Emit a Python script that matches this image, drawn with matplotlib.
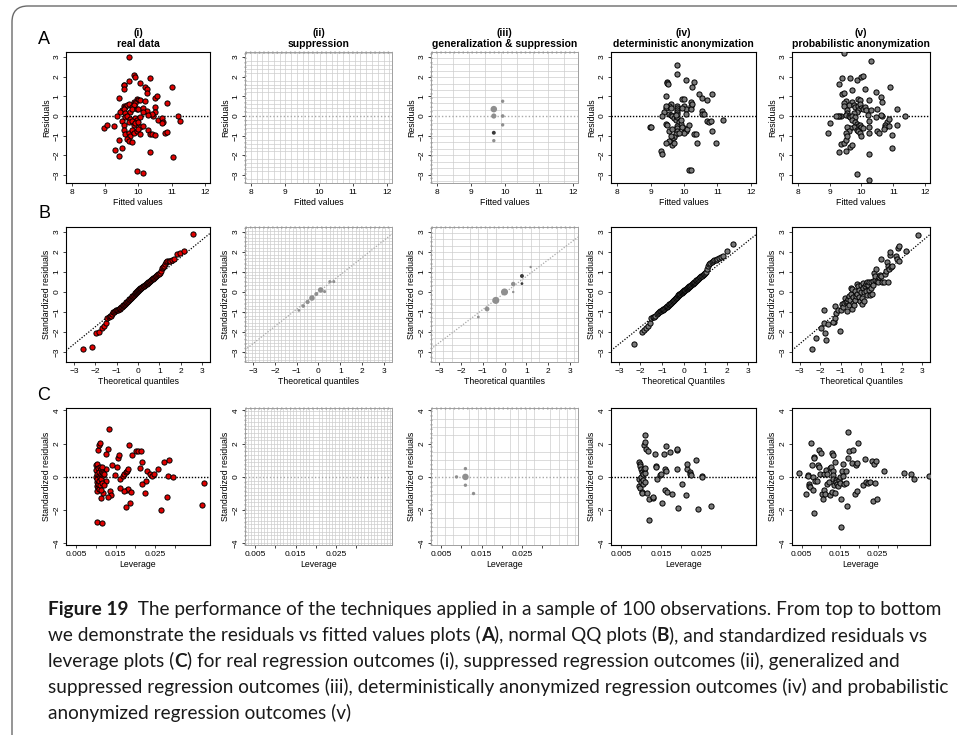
import matplotlib
matplotlib.use("Agg")
import matplotlib.pyplot as plt
from matplotlib.ticker import MultipleLocator
from matplotlib.path import Path
from matplotlib.patches import PathPatch

# ---------------- data ----------------
col_titles = ["(i)\nreal data", "(ii)\nsuppression", "(iii)\ngeneralization & suppression",
              "(iv)\ndeterministic anonymization", "(v)\nprobabilistic anonymization"]
row_letters = ["A", "B", "C"]

# row A: residuals vs fitted values (fitted, residual)
real_resid = [(9.70, 3.00), (9.85, 2.10), (9.88, 2.00), (9.55, 1.60), (9.57, 1.55), (9.70, 1.80),
              (10.05, 1.70), (10.35, 1.95), (9.55, 1.35), (10.20, 1.45), (10.25, 1.35), (10.25, 1.15),
              (11.00, 1.45), (10.50, 0.90), (10.55, 1.00), (10.85, 0.65), (9.40, 0.90), (9.95, 0.85),
              (10.00, 0.80), (10.05, 0.80), (9.85, 0.70), (9.90, 0.65), (10.20, 0.75), (9.55, 0.50),
              (9.60, 0.45), (9.65, 0.55), (9.70, 0.60), (9.80, 0.45), (9.85, 0.55), (9.50, 0.30),
              (9.55, 0.35), (9.45, 0.20), (9.60, 0.15), (9.75, 0.20), (9.80, 0.35), (9.95, 0.35),
              (10.00, 0.35), (10.15, 0.40), (10.25, 0.25), (10.50, 0.45), (10.15, 0.20), (10.50, 0.20),
              (10.45, 0.00), (10.40, 0.10), (9.35, 0.00), (9.60, -0.05), (9.65, 0.00), (9.75, -0.15),
              (9.90, -0.10), (9.95, -0.20), (10.05, -0.05), (10.30, 0.05), (9.50, -0.25), (9.55, -0.45),
              (9.70, -0.30), (9.80, -0.25), (9.85, -0.45), (9.90, -0.35), (10.00, -0.30), (10.05, -0.55),
              (10.15, -0.50), (10.60, -0.20), (10.70, -0.10), (10.75, -0.30), (10.70, -0.35), (11.20, 0.00),
              (11.25, -0.25), (8.95, -0.60), (9.05, -0.45), (9.25, -0.50), (9.55, -0.70), (9.60, -0.90),
              (9.70, -0.85), (9.75, -1.00), (9.80, -0.70), (9.85, -0.85), (9.95, -0.75), (10.00, -0.65),
              (10.05, -0.90), (10.30, -0.70), (10.35, -0.90), (10.40, -0.90), (10.50, -0.95), (10.80, -0.85),
              (10.85, -0.80), (9.40, -1.20), (9.65, -1.15), (9.70, -1.25), (9.80, -1.30), (9.50, -1.60),
              (9.30, -1.75), (9.40, -2.05), (10.35, -1.85), (11.05, -2.10), (9.95, -2.80), (10.15, -2.90)]

det_resid = [(9.80, 2.60), (9.80, 2.15), (10.05, 1.85), (9.50, 1.75), (9.50, 1.70), (9.52, 1.65),
             (10.30, 1.75), (10.25, 1.45), (10.45, 1.10), (10.85, 1.10), (10.55, 0.90), (10.70, 0.80),
             (9.45, 1.00), (9.95, 0.85), (10.00, 0.85), (10.20, 0.70), (9.60, 0.60), (9.55, 0.50),
             (9.50, 0.45), (9.45, 0.40), (9.40, 0.20), (9.80, 0.50), (9.80, 0.40), (9.80, 0.30),
             (9.80, 0.20), (10.00, 0.50), (10.05, 0.35), (10.20, 0.50), (10.20, 0.35), (10.55, 0.25),
             (10.55, 0.10), (10.60, 0.10), (9.55, 0.10), (9.60, 0.05), (9.65, 0.00), (9.70, -0.10),
             (9.75, -0.20), (9.80, -0.05), (9.80, 0.10), (9.85, -0.30), (9.90, -0.40), (9.80, -0.50),
             (9.80, -0.60), (9.80, -0.75), (9.75, -0.90), (9.70, -1.05), (9.65, -1.15), (9.60, -1.30),
             (9.65, -1.45), (9.70, -1.35), (9.55, -1.25), (9.45, -1.35), (9.60, -1.00), (9.55, -0.75),
             (9.45, -0.40), (9.50, -0.45), (9.35, 0.00), (8.98, -0.55), (9.00, -0.55), (10.00, -0.60),
             (10.05, -0.75), (10.00, -0.85), (10.10, -0.65), (10.15, -0.45), (10.30, -0.90), (10.35, -0.90),
             (10.40, -1.35), (10.70, -0.25), (10.75, -0.30), (10.80, -0.25), (10.85, -0.75), (10.95, -1.35),
             (11.15, -0.20), (9.30, -1.80), (9.35, -1.95), (10.15, -2.75), (10.20, -2.75), (9.45, 0.50),
             (9.60, 0.40), (9.75, 0.05), (9.90, -0.20), (9.95, 0.40), (10.25, 0.60), (9.85, -0.85),
             (9.65, -0.65), (9.95, -0.55), (10.05, 0.10)]

prob_resid = [(9.45, 3.20), (10.30, 2.80), (9.30, 1.65), (9.40, 1.95), (9.65, 1.95), (9.85, 1.85),
              (10.00, 2.00), (10.05, 2.05), (9.40, 1.10), (9.45, 1.15), (9.70, 1.30), (10.10, 1.35),
              (10.45, 1.20), (10.60, 0.95), (10.90, 1.45), (9.90, 0.85), (9.95, 0.80), (9.50, 0.75),
              (9.70, 0.70), (10.25, 0.80), (10.65, 0.70), (9.45, 0.65), (9.60, 0.55), (9.35, 0.00),
              (9.45, 0.50), (9.55, 0.30), (9.75, 0.55), (9.80, 0.45), (9.90, 0.50), (9.95, 0.60),
              (10.00, 0.40), (10.05, 0.35), (10.10, 0.45), (10.15, 0.30), (9.90, 0.30), (9.85, 0.20),
              (9.75, 0.15), (9.55, 0.15), (9.50, 0.05), (9.30, 0.00), (9.25, 0.00), (9.60, 0.00),
              (9.65, -0.05), (9.70, 0.00), (9.80, -0.05), (10.30, 0.30), (10.50, 0.35), (10.65, 0.00),
              (10.60, 0.05), (11.10, 0.35), (11.35, 0.00), (10.20, 0.05), (10.45, -0.05), (8.95, -0.85),
              (9.00, -0.35), (9.20, 0.00), (9.70, -0.20), (9.80, -0.30), (9.85, -0.40), (9.90, -0.50),
              (9.95, -0.45), (10.00, -0.55), (10.05, -0.60), (9.75, -0.55), (9.65, -0.60), (9.55, -0.55),
              (9.60, -0.75), (9.85, -0.70), (9.90, -0.75), (9.95, -0.85), (10.00, -1.00), (10.25, -0.25),
              (10.25, -0.55), (10.25, -0.85), (10.50, -0.75), (10.55, -0.85), (10.80, -0.30), (10.75, -0.45),
              (10.75, -0.55), (10.70, -0.65), (10.85, -0.50), (11.10, -0.45), (10.95, -0.95), (10.85, -0.15),
              (9.35, -1.40), (9.45, -1.35), (9.50, -1.20), (9.50, -0.85), (9.55, -1.00), (9.65, -1.55),
              (9.70, -1.45), (9.30, -1.85), (9.50, -1.80), (10.25, -1.95), (10.95, -1.60), (9.85, -2.95),
              (10.25, -3.25)]

# generalization & suppression, row A: (fitted, residual, size, dark?)
gen_resid = [(9.67, 0.35, 22, 0), (9.67, 0.00, 14, 0), (9.67, -0.85, 8, 1), (9.67, -1.25, 6, 0),
             (9.93, 0.75, 6, 0), (9.93, 0.00, 7, 0), (9.93, -0.45, 6, 0)]

# row B: normal QQ (theoretical quantile, standardized residual)
real_qq_x = [-2.58, -2.17, -1.96, -1.81, -1.70, -1.60, -1.51, -1.44, -1.37, -1.31,
             -1.25, -1.20, -1.15, -1.10, -1.06, -1.02, -0.97, -0.93, -0.90, -0.86,
             -0.82, -0.79, -0.76, -0.72, -0.69, -0.66, -0.63, -0.60, -0.57, -0.54,
             -0.51, -0.48, -0.45, -0.43, -0.40, -0.37, -0.35, -0.32, -0.29, -0.27,
             -0.24, -0.21, -0.19, -0.16, -0.14, -0.11, -0.09, -0.06, -0.04, -0.01,
             0.01, 0.04, 0.06, 0.09, 0.11, 0.14, 0.16, 0.19, 0.21, 0.24,
             0.27, 0.29, 0.32, 0.35, 0.37, 0.40, 0.43, 0.45, 0.48, 0.51,
             0.54, 0.57, 0.60, 0.63, 0.66, 0.69, 0.72, 0.76, 0.79, 0.82,
             0.86, 0.90, 0.93, 0.97, 1.02, 1.06, 1.10, 1.15, 1.20, 1.25,
             1.31, 1.37, 1.44, 1.51, 1.60, 1.70, 1.81, 1.96, 2.17, 2.58]
real_qq_y = [-2.85, -2.75, -2.05, -2.00, -1.80, -1.72, -1.55, -1.30, -1.25, -1.22,
             -1.18, -1.10, -1.00, -0.98, -0.95, -0.92, -0.90, -0.88, -0.86, -0.84,
             -0.80, -0.77, -0.74, -0.70, -0.67, -0.64, -0.61, -0.58, -0.55, -0.52,
             -0.49, -0.46, -0.43, -0.40, -0.37, -0.34, -0.31, -0.28, -0.25, -0.22,
             -0.19, -0.16, -0.13, -0.10, -0.07, -0.04, -0.02, 0.01, 0.04, 0.07,
             0.10, 0.12, 0.14, 0.16, 0.18, 0.20, 0.22, 0.24, 0.26, 0.28,
             0.30, 0.32, 0.34, 0.36, 0.38, 0.41, 0.43, 0.46, 0.48, 0.50,
             0.53, 0.55, 0.58, 0.60, 0.63, 0.66, 0.69, 0.72, 0.75, 0.78,
             0.81, 0.85, 0.88, 0.92, 0.97, 1.05, 1.20, 1.25, 1.30, 1.40,
             1.50, 1.55, 1.55, 1.56, 1.60, 1.65, 1.90, 1.95, 2.05, 2.90]

det_qq_x = [-2.30, -1.95, -1.85, -1.75, -1.66, -1.58, -1.50, -1.43, -1.37, -1.31,
            -1.25, -1.20, -1.15, -1.10, -1.06, -1.02, -0.97, -0.93, -0.90, -0.86,
            -0.82, -0.79, -0.76, -0.72, -0.69, -0.66, -0.63, -0.60, -0.57, -0.54,
            -0.51, -0.48, -0.45, -0.43, -0.40, -0.37, -0.35, -0.32, -0.29, -0.27,
            -0.24, -0.21, -0.19, -0.16, -0.14, -0.11, -0.09, -0.06, -0.04, -0.01,
            0.01, 0.04, 0.06, 0.09, 0.11, 0.14, 0.16, 0.19, 0.21, 0.24,
            0.27, 0.29, 0.32, 0.35, 0.37, 0.40, 0.43, 0.45, 0.48, 0.51,
            0.54, 0.57, 0.60, 0.63, 0.66, 0.69, 0.72, 0.76, 0.79, 0.82,
            0.86, 0.90, 0.93, 0.97, 1.02, 1.06, 1.10, 1.15, 1.20, 1.25,
            1.31, 1.37, 1.43, 1.50, 1.58, 1.66, 1.75, 1.85, 2.00, 2.30]
det_qq_y = [-2.60, -2.00, -1.90, -1.80, -1.72, -1.55, -1.30, -1.27, -1.24, -1.20,
            -1.12, -1.05, -0.98, -0.95, -0.93, -0.91, -0.89, -0.86, -0.83, -0.80,
            -0.77, -0.74, -0.71, -0.68, -0.65, -0.62, -0.59, -0.56, -0.53, -0.50,
            -0.47, -0.44, -0.41, -0.38, -0.35, -0.32, -0.29, -0.26, -0.23, -0.20,
            -0.17, -0.15, -0.12, -0.10, -0.08, -0.05, -0.03, 0.00, 0.02, 0.04,
            0.06, 0.08, 0.10, 0.12, 0.15, 0.17, 0.19, 0.21, 0.23, 0.25,
            0.28, 0.30, 0.32, 0.35, 0.37, 0.40, 0.42, 0.45, 0.47, 0.50,
            0.52, 0.55, 0.58, 0.61, 0.64, 0.67, 0.70, 0.73, 0.76, 0.79,
            0.82, 0.85, 0.88, 0.92, 0.95, 1.00, 1.15, 1.30, 1.40, 1.45,
            1.50, 1.55, 1.58, 1.62, 1.65, 1.70, 1.75, 1.80, 2.05, 2.40]

prob_qq = [(-2.40, -2.85), (-2.20, -2.30), (-1.95, -1.80), (-1.80, -1.55), (-1.75, -2.05), (-1.70, -2.40),
           (-1.60, -1.60), (-1.80, -0.90), (-1.30, -1.50), (-1.35, -1.50), (-1.25, -1.30), (-1.20, -1.05),
           (-1.25, -0.70), (-1.10, -0.90), (-1.05, -1.95), (-1.00, -0.90), (-0.95, -0.60), (-0.90, -0.75),
           (-0.85, -0.55), (-0.80, -0.30), (-0.75, -0.50), (-0.70, -0.95), (-0.70, -0.45), (-0.65, -0.35),
           (-0.60, -0.65), (-0.60, -0.20), (-0.55, -0.40), (-0.50, -0.10), (-0.50, 0.20), (-0.45, 0.15),
           (-0.45, -0.85), (-0.40, -0.55), (-0.40, -0.25), (-0.35, -0.65), (-0.30, -0.40), (-0.30, 0.05),
           (-0.25, -0.20), (-0.20, 0.40), (-0.20, -0.10), (-0.15, 0.30), (-0.10, -0.25), (-0.10, 0.10),
           (-0.05, -0.45), (0.00, 0.35), (0.00, 0.00), (0.05, -0.30), (0.05, -0.60), (0.10, 0.45),
           (0.10, 0.20), (0.15, 0.00), (0.15, -0.45), (0.20, 0.30), (0.25, 0.40), (0.25, 0.05),
           (0.30, -0.15), (0.30, 0.50), (0.35, 0.35), (0.40, 0.10), (0.40, 0.50), (0.45, -0.15),
           (0.50, 0.50), (0.50, 0.20), (0.55, -0.10), (0.60, 0.55), (0.60, 0.35), (0.65, 0.95),
           (0.70, 0.60), (0.70, 0.80), (0.75, 1.15), (0.80, 0.55), (0.85, 0.50), (0.90, 0.75),
           (0.95, 0.85), (1.00, 0.80), (1.00, 1.65), (1.05, 0.50), (1.10, 0.50), (1.15, 0.90),
           (1.20, 1.05), (1.25, 1.50), (1.30, 0.50), (1.30, 1.30), (1.35, 1.15), (1.40, 1.85),
           (1.40, 2.00), (1.45, 1.25), (1.50, 1.30), (1.70, 1.80), (1.75, 1.65), (1.80, 2.20),
           (1.85, 2.30), (1.85, 1.55), (2.20, 2.05), (2.80, 2.85)]

supp_qq = [(-0.90, -0.92, 4, 0), (-0.70, -0.70, 7, 0), (-0.50, -0.50, 9, 0), (-0.30, -0.30, 16, 0),
           (-0.10, -0.10, 8, 0), (0.10, 0.10, 16, 0), (0.28, 0.02, 5, 0), (0.52, 0.52, 5, 0),
           (0.70, 0.52, 5, 0)]
gen_qq = [(-1.20, -1.25, 4, 0), (-0.80, -0.85, 12, 0), (-0.40, -0.42, 26, 0), (0.00, 0.00, 26, 0),
          (0.40, 0.40, 10, 0), (0.40, 0.00, 3, 0), (0.80, 0.80, 8, 1), (0.80, 0.42, 4, 1),
          (1.20, 1.25, 3, 0)]

# qq reference lines (slope, intercept)
qq_lines = [(0.87, 0.0), (0.86, 0.0), (0.83, -0.05), (0.86, -0.03), (0.86, -0.02)]

# row C: standardized residuals vs leverage (leverage, std residual)
real_lev = [(0.0102, -2.70), (0.0117, -2.80), (0.0134, 2.90), (0.0105, 1.60), (0.0108, 1.95), (0.0110, 2.05),
            (0.0130, 1.70), (0.0127, 1.40), (0.0156, 1.15), (0.0158, 1.30), (0.0184, 1.90), (0.0202, 1.55),
            (0.0207, 1.55), (0.0214, 1.55), (0.0192, 1.30), (0.0211, 0.55), (0.0217, 0.90), (0.0230, 0.35),
            (0.0238, 0.20), (0.0242, 0.05), (0.0248, 0.15), (0.0256, 0.50), (0.0272, 0.90), (0.0284, 1.00),
            (0.0281, 0.05), (0.0295, 0.00), (0.0280, -1.20), (0.0264, -2.00), (0.0367, -1.70), (0.0372, -0.35),
            (0.0226, -0.25), (0.0217, -0.45), (0.0224, -0.95), (0.0186, -1.55), (0.0176, -1.80), (0.0180, -0.80),
            (0.0182, -0.70), (0.0172, -0.85), (0.0188, -0.90), (0.0162, -0.65), (0.0135, -0.85), (0.0138, -1.10),
            (0.0130, -1.20), (0.0141, 0.70), (0.0154, 0.60), (0.0148, 0.10), (0.0161, -0.10), (0.0168, 0.05),
            (0.0170, 0.15), (0.0175, 0.30), (0.0178, 0.35), (0.0181, 0.45), (0.0126, 0.50), (0.0127, -0.25),
            (0.0113, -1.25), (0.0118, -0.95), (0.0103, -0.85), (0.0100, 0.70), (0.0101, 0.40), (0.0101, 0.00),
            (0.0102, -0.30), (0.0102, -0.55), (0.0103, 0.80), (0.0104, 0.20), (0.0104, -0.15), (0.0105, -0.60),
            (0.0106, 0.55), (0.0106, -0.40), (0.0107, 0.10), (0.0108, -0.70), (0.0109, 0.30), (0.0109, -0.25),
            (0.0110, 0.60), (0.0110, -0.50), (0.0111, 0.00), (0.0112, 0.45), (0.0112, -0.80), (0.0113, 0.20),
            (0.0114, -0.10), (0.0115, 0.60), (0.0116, 0.30), (0.0117, -0.35), (0.0118, 0.10), (0.0119, 0.25),
            (0.0120, -0.50), (0.0121, 0.15)]

det_lev = [(0.0096, 0.90), (0.0097, 0.80), (0.0098, 0.65), (0.0095, -0.10), (0.0096, -0.55), (0.0097, -0.65),
           (0.0099, -0.30), (0.0100, 0.00), (0.0101, 0.50), (0.0102, -0.90), (0.0103, -0.95), (0.0103, 0.30),
           (0.0104, -0.45), (0.0105, 0.15), (0.0106, -0.20), (0.0107, 0.45), (0.0107, 1.90), (0.0109, 0.25),
           (0.0110, 2.10), (0.0110, 2.50), (0.0111, 0.55), (0.0109, -0.30), (0.0112, 1.70), (0.0114, -0.95),
           (0.0118, 1.55), (0.0120, -1.30), (0.0121, -2.60), (0.0129, -1.25), (0.0131, -1.20), (0.0136, 1.40),
           (0.0137, 0.65), (0.0138, 0.60), (0.0139, -0.10), (0.0148, 0.10), (0.0150, 0.15), (0.0153, -1.60),
           (0.0158, 1.35), (0.0159, 0.50), (0.0162, 1.85), (0.0163, 0.35), (0.0160, -0.80), (0.0166, -0.90),
           (0.0172, 1.50), (0.0178, -1.00), (0.0189, 0.50), (0.0190, 1.65), (0.0191, 1.70), (0.0192, -1.90),
           (0.0203, -0.40), (0.0212, -1.10), (0.0215, 0.50), (0.0216, 0.80), (0.0222, 0.30), (0.0224, 0.20),
           (0.0226, 0.10), (0.0238, 1.00), (0.0243, -1.95), (0.0252, 0.05), (0.0253, 0.00), (0.0275, -1.75)]

prob_lev = [(0.0044, 0.25), (0.0063, -1.00), (0.0066, 0.10), (0.0068, 0.05), (0.0069, -0.40), (0.0070, -0.55),
            (0.0072, -0.60), (0.0074, 2.05), (0.0078, 0.70), (0.0079, 0.00), (0.0080, -0.80), (0.0082, 1.20),
            (0.0083, -2.20), (0.0084, 1.15), (0.0085, -0.25), (0.0090, -0.25), (0.0093, 0.70), (0.0095, 0.60),
            (0.0097, 1.60), (0.0098, 0.20), (0.0100, 1.45), (0.0103, -1.00), (0.0106, -1.35), (0.0108, 0.15),
            (0.0110, -0.80), (0.0113, -1.00), (0.0115, 0.40), (0.0116, -0.45), (0.0118, 0.20), (0.0122, -0.30),
            (0.0125, 0.55), (0.0125, -1.10), (0.0128, 0.60), (0.0129, -0.90), (0.0131, 1.45), (0.0132, 1.30),
            (0.0132, 0.35), (0.0133, 0.10), (0.0134, -0.15), (0.0135, -0.50), (0.0137, 0.90), (0.0138, -0.95),
            (0.0140, -0.20), (0.0142, -0.30), (0.0144, -0.40), (0.0146, -0.55), (0.0148, -0.20), (0.0150, 0.00),
            (0.0152, -0.35), (0.0153, -1.35), (0.0155, -3.00), (0.0156, 0.35), (0.0158, 0.75), (0.0160, 0.05),
            (0.0163, -0.45), (0.0166, 0.35), (0.0168, -0.35), (0.0170, -1.75), (0.0171, 1.15), (0.0173, 2.70),
            (0.0176, 1.55), (0.0182, 0.85), (0.0186, 1.65), (0.0190, -1.00), (0.0193, 0.70), (0.0195, 0.85),
            (0.0197, -0.85), (0.0198, 2.05), (0.0212, -0.50), (0.0216, 1.05), (0.0220, -0.30), (0.0225, -0.35),
            (0.0231, -0.30), (0.0236, 0.95), (0.0238, -1.45), (0.0241, 0.80), (0.0243, -0.35), (0.0246, 0.95),
            (0.0248, -1.30), (0.0268, 0.35), (0.0320, 0.25), (0.0338, 0.15), (0.0345, -0.15), (0.0385, 0.05)]

gen_lev = [(0.0088, 0.00, 6, 0), (0.0110, 0.00, 22, 0), (0.0110, 0.50, 6, 0), (0.0110, -0.50, 6, 0),
           (0.0130, -1.00, 6, 0)]

caption_lines = [
    [("Figure 19", True), ("  The performance of the techniques applied in a sample of 100 observations. From top to bottom", False)],
    [("we demonstrate the residuals vs fitted values plots (", False), ("A", True), ("), normal QQ plots (", False),
     ("B", True), ("), and standardized residuals vs", False)],
    [("leverage plots (", False), ("C", True),
     (") for real regression outcomes (i), suppressed regression outcomes (ii), generalized and", False)],
    [("suppressed regression outcomes (iii), deterministically anonymized regression outcomes (iv) and probabilistic", False)],
    [("anonymized regression outcomes (v)", False)],
]

# ---------------- layout ----------------
W, H = 957, 738
fig = plt.figure(figsize=(W / 100, H / 100), dpi=100, facecolor="white")
plt.rcParams["font.family"] = ["Liberation Sans", "DejaVu Sans"]

col_px = [(66, 210), (245, 392), (431, 578), (611, 756), (792, 930)]
row_px = [(52, 183), (227, 362), (408, 545)]

row_cfg = [
    dict(xlim=(7.82, 12.15), ylim=(-3.4, 3.25), xt=[8, 9, 10, 11, 12], xtl=["8", "9", "10", "11", "12"],
         yt=[-3, -2, -1, 0, 1, 2, 3], xl="Fitted values", yl="Residuals"),
    dict(xlim=(-3.37, 3.37), ylim=(-3.5, 3.25), xt=[-3, -2, -1, 0, 1, 2, 3], xtl=None,
         yt=[-3, -2, -1, 0, 1, 2, 3], xl="Theoretical quantiles", yl="Standardized residuals"),
    dict(xlim=(0.0025, 0.0388), ylim=(-4.1, 4.15), xt=[0.005, 0.010, 0.015, 0.020, 0.025, 0.030],
         xtl=["0.005", "", "0.015", "", "0.025", ""], yt=[-4, -2, 0, 2, 4],
         xl="Leverage", yl="Standardized residuals"),
]
grid_steps = {(0, 1): (0.17, 0.2), (0, 2): (0.47, 0.33), (1, 1): (0.17, 0.17), (1, 2): (0.4, 0.33),
              (2, 1): (0.0008, 0.22), (2, 2): (0.002, 0.5)}

RED = "#e00000"
GRAYFILL = "#7a7a7a"


def make_ax(r, c):
    l, rt = col_px[c]
    t, b = row_px[r]
    return fig.add_axes([l / W, 1 - b / H, (rt - l) / W, (b - t) / H])


def style(ax, r, c):
    cfg = row_cfg[r]
    ax.set_xlim(*cfg["xlim"])
    ax.set_ylim(*cfg["ylim"])
    ax.set_xticks(cfg["xt"])
    if cfg["xtl"] is not None:
        ax.set_xticklabels(cfg["xtl"])
    ax.set_yticks(cfg["yt"])
    ax.set_yticklabels([str(v).replace("-", "\u2212") for v in cfg["yt"]], rotation=90, va="center")
    ax.tick_params(labelsize=6, length=2.5, width=0.6, pad=1.5, color="#222222")
    xl = cfg["xl"]
    if r == 1 and c >= 3:
        xl = "Theoretical Quantiles"
    ax.set_xlabel(xl, fontsize=6.3, labelpad=1.5)
    ax.set_ylabel(cfg["yl"], fontsize=6.3, labelpad=1.5)
    if c in (1, 2):
        for s in ax.spines.values():
            s.set_color("#a0a0a0")
            s.set_linewidth(0.7)
        gx, gy = grid_steps[(r, c)]
        ax.xaxis.set_minor_locator(MultipleLocator(gx))
        ax.yaxis.set_minor_locator(MultipleLocator(gy))
        ax.tick_params(which="minor", length=0)
        ax.grid(which="minor", color="#cdcdcd", lw=0.5)
        ax.set_axisbelow(True)
        # dotted black borders on top and left
        ax.plot([0, 1], [1, 1], transform=ax.transAxes, color="black", lw=1.0,
                ls=(0, (1, 2.2)), clip_on=False)
        ax.plot([0, 0], [0, 1], transform=ax.transAxes, color="black", lw=1.0,
                ls=(0, (1, 2.2)), clip_on=False)
    else:
        for s in ax.spines.values():
            s.set_color("black")
            s.set_linewidth(0.8)


def scatter_pairs(ax, pairs, face):
    xs, ys = zip(*pairs)
    ax.scatter(xs, ys, s=14, facecolor=face, edgecolor="black", linewidths=0.7, zorder=3)


def scatter_gen(ax, pts):
    xs, ys, ss, dk = zip(*pts)
    cols = ["#3a3a3a" if d else "#8f8f8f" for d in dk]
    ax.scatter(xs, ys, s=ss, c=cols, edgecolors="none", zorder=3)


axes = [[make_ax(r, c) for c in range(5)] for r in range(3)]
for r in range(3):
    for c in range(5):
        style(axes[r][c], r, c)

for c in range(5):
    axes[0][c].set_title(col_titles[c], fontsize=7.5, fontweight="bold", pad=3.5, linespacing=1.15)

# zero reference lines, rows A and C
for r in (0, 2):
    for c in range(5):
        ax = axes[r][c]
        if c in (1, 2):
            ax.axhline(0, color="#a8a8a8", lw=1.0, ls=(0, (1, 1.5)), zorder=2)
        else:
            ax.axhline(0, color="black", lw=1.0, ls=(0, (1, 1.2)), zorder=2)

# row A
scatter_pairs(axes[0][0], real_resid, RED)
scatter_gen(axes[0][2], gen_resid)
scatter_pairs(axes[0][3], det_resid, GRAYFILL)
scatter_pairs(axes[0][4], prob_resid, GRAYFILL)

# row B
for c in range(5):
    slope, icpt = qq_lines[c]
    col = "#a8a8a8" if c in (1, 2) else "black"
    axes[1][c].axline((0, icpt), slope=slope, color=col, lw=0.9, ls=(0, (1, 1.3)), zorder=2)
axes[1][0].scatter(real_qq_x, real_qq_y, s=14, facecolor=RED, edgecolor="black", linewidths=0.7, zorder=3)
scatter_gen(axes[1][1], supp_qq)
scatter_gen(axes[1][2], gen_qq)
axes[1][3].scatter(det_qq_x, det_qq_y, s=14, facecolor=GRAYFILL, edgecolor="black", linewidths=0.7, zorder=3)
scatter_pairs(axes[1][4], prob_qq, GRAYFILL)

# row C
scatter_pairs(axes[2][0], real_lev, RED)
scatter_gen(axes[2][2], gen_lev)
scatter_pairs(axes[2][3], det_lev, GRAYFILL)
scatter_pairs(axes[2][4], prob_lev, GRAYFILL)

# row letters
for letter, y in zip(row_letters, [40, 213, 396]):
    fig.text(44 / W, 1 - y / H, letter, fontsize=13, ha="center", va="center")

# frame with rounded top-left corner
verts = [(12, 735), (12, 22), (12, 6), (28, 6), (957, 6)]
verts = [(x / W, 1 - y / H) for x, y in verts]
codes = [Path.MOVETO, Path.LINETO, Path.CURVE3, Path.CURVE3, Path.LINETO]
fig.add_artist(PathPatch(Path(verts, codes), transform=fig.transFigure, fill=False,
                         edgecolor="#6a6a6a", lw=1.0))

# caption, drawn piece by piece so bold parts sit inline
renderer = fig.canvas.get_renderer()
cap_font = ["Lato", "DejaVu Sans"]


def line_width(parts, size):
    total = 0
    for txt, bold in parts:
        t = fig.text(0, 0, txt, fontsize=size, fontweight="bold" if bold else "normal", family=cap_font)
        total += t.get_window_extent(renderer=renderer).width
        t.remove()
    return total


widest = max(line_width(p, 12) for p in caption_lines)
cap_size = 12 * 898 / widest
for i, parts in enumerate(caption_lines):
    x = 48
    y = 615 + 26 * i
    for txt, bold in parts:
        t = fig.text(x / W, 1 - y / H, txt, fontsize=cap_size, fontweight="bold" if bold else "normal",
                     family=cap_font, va="baseline", ha="left", color="#1a1a1a")
        x += t.get_window_extent(renderer=renderer).width

fig.savefig("out.png", dpi=100, facecolor="white")
